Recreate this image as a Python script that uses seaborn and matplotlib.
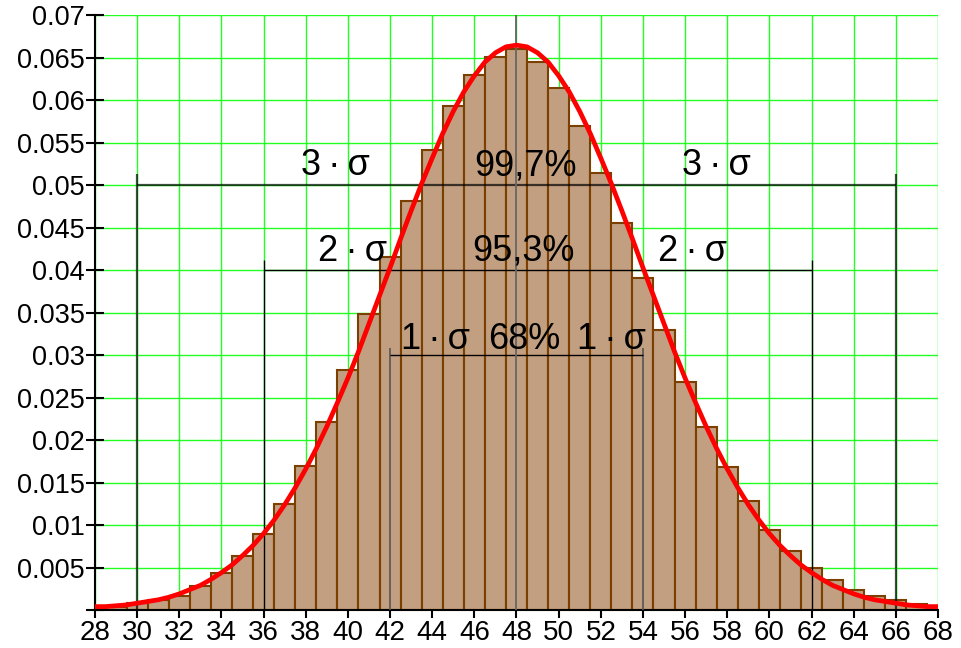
import numpy as np
import pandas as pd
import matplotlib
matplotlib.use("Agg")
import matplotlib.pyplot as plt
import seaborn as sns

# histogram: class centre and relative frequency
bar_x = list(range(28, 69))
bar_h = [0.0002, 0.0003, 0.0008, 0.0012, 0.0017, 0.0028, 0.0043, 0.0064, 0.0089, 0.0125,
         0.0170, 0.0221, 0.0283, 0.0348, 0.0415, 0.0481, 0.0542, 0.0593, 0.0630, 0.0651,
         0.0660, 0.0645, 0.0614, 0.0570, 0.0515, 0.0456, 0.0391, 0.0330, 0.0269, 0.0215,
         0.0168, 0.0128, 0.0094, 0.0069, 0.0050, 0.0035, 0.0024, 0.0017, 0.0012, 0.0007,
         0.0003]

# red density curve, read every half unit
curve_x = [28 + 0.5 * i for i in range(81)]
curve_left = [0.0004, 0.0004, 0.0005, 0.0006, 0.0008, 0.0010, 0.0012, 0.0015, 0.0019, 0.0024,
              0.0029, 0.0036, 0.0044, 0.0053, 0.0064, 0.0076, 0.0090, 0.0106, 0.0124, 0.0144,
              0.0166, 0.0190, 0.0216, 0.0244, 0.0273, 0.0304, 0.0337, 0.0370, 0.0403, 0.0437,
              0.0470, 0.0502, 0.0532, 0.0561, 0.0587, 0.0610, 0.0629, 0.0645, 0.0656, 0.0663]
curve_y = curve_left + [0.0665] + curve_left[::-1]

# sigma bands: left bound, right bound, level, label, percentage
band_lo = [42, 36, 30]
band_hi = [54, 62, 66]
band_lev = [0.03, 0.04, 0.05]
band_top = [0.0308, 0.0412, 0.0513]
band_lab = ["1\u2009·\u2009σ", "2\u2009·\u2009σ", "3\u2009·\u2009σ"]
band_pct = ["68%", "95,3%", "99,7%"]
mean_x = 48

x_ticks = list(range(28, 69, 2))
y_ticks = [0, 0.005, 0.01, 0.015, 0.02, 0.025, 0.03, 0.035, 0.04, 0.045, 0.05, 0.055,
           0.06, 0.065, 0.07]

hist_df = pd.DataFrame({'x': bar_x, 'h': bar_h})

sns.set_theme(style="white")
plt.rcParams['font.family'] = ['Liberation Sans', 'DejaVu Sans']
plt.rcParams['text.color'] = 'black'

fig = plt.figure(figsize=(9.62, 6.48), dpi=100)
ax = fig.add_axes([95 / 962, 1 - 610 / 648, 843 / 962, 594.6 / 648])

sns.histplot(data=hist_df, x='x', weights='h', binwidth=1, binrange=(27.5, 68.5), stat='count',
             color='#c19f80', edgecolor='#7b3f00', linewidth=1.5, alpha=1, ax=ax)
for p in ax.patches:
    p.set_zorder(2)

# sigma lines
line_style = [dict(color='#555555', lw=1.2), dict(color='black', lw=1.0),
              dict(color='black', lw=1.6, alpha=0.7)]
h_style = [dict(color='black', lw=1.0), dict(color='black', lw=1.0),
           dict(color='black', lw=1.6, alpha=0.7)]
for lo, hi, lev, top, st, hs in zip(band_lo, band_hi, band_lev, band_top, line_style, h_style):
    ax.vlines([lo, hi], 0, top, zorder=3, **st)
    ax.hlines(lev, lo, hi, zorder=3, **hs)
ax.vlines(mean_x, 0, 0.07, color='#666666', lw=1.3, zorder=3)

sns.lineplot(x=curve_x, y=curve_y, color='red', lw=3.4, ax=ax, zorder=4)

# labels
lab_left = [44.16, 40.2, 39.4]
lab_right = [52.5, 56.35, 57.5]
lab_mid = [48.35, 48.35, 48.43]
for lab, pct, top, xl, xr, xm in zip(band_lab, band_pct, band_top, lab_left, lab_right, lab_mid):
    for xx, t in [(xl, lab), (xr, lab), (xm, pct)]:
        ax.text(xx, top - 0.0001, t, ha='center', va='baseline', fontsize=26,
                color='black', zorder=5)

ax.set_xlim(28, 68)
ax.set_ylim(0, 0.07)
ax.set_yticks(y_ticks)
ax.set_yticklabels([''] + [f"{v:g}" for v in y_ticks[1:]])
ax.set_xticks(x_ticks)
ax.set_xticklabels([str(v) for v in x_ticks])

ax.grid(True, color='#22ff22', lw=1.0)
ax.set_axisbelow(True)

ax.tick_params(axis='y', direction='inout', length=12.5, width=1.5, labelsize=19.5, pad=1,
               left=True, colors='black')
ax.tick_params(axis='x', direction='out', length=6, width=1.5, labelsize=20,
               pad=1, bottom=True, colors='black')

for s in ['top', 'right']:
    ax.spines[s].set_visible(False)
for s in ['left', 'bottom']:
    ax.spines[s].set_color('black')
    ax.spines[s].set_linewidth(1.5)
ax.set_xlabel('')
ax.set_ylabel('')

fig.savefig('out.png', dpi=100, facecolor='white')
